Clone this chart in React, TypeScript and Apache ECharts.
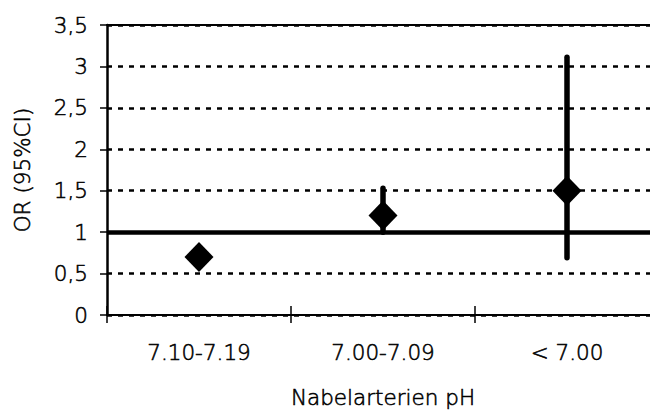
import React, { useEffect, useRef } from "react";
import * as echarts from "echarts";

const categories = ["7.10-7.19", "7.00-7.09", "< 7.00"];
const orValues = [0.7, 1.2, 1.5];
const ciLow = [0.63, 1.0, 0.69];
const ciHigh = [0.77, 1.53, 3.11];
const yTicks = { min: 0, max: 3.5, interval: 0.5 };
const referenceValue = 1;

const FONT = "'DejaVu Sans', sans-serif";
const FW = 200;
const FS = 21.5;
const TXT = {
  color: "#000",
  fontSize: FS,
  fontFamily: FONT,
  fontWeight: FW,
  textBorderColor: "#000",
  textBorderWidth: 0.55,
};

export default function App() {
  const ref = useRef<HTMLDivElement>(null);
  useEffect(() => {
    if (!ref.current) return;
    const chart = echarts.init(ref.current, null, { renderer: "svg" });
    const ciData = categories.map((c, i) => [i, ciLow[i], ciHigh[i]]);
    chart.setOption({
      animation: false,
      backgroundColor: "#fff",
      textStyle: { fontFamily: FONT, fontWeight: FW },
      grid: {
        left: 107,
        right: 0,
        top: 25,
        bottom: 95,
        containLabel: false,
        outerBoundsMode: "none",
      },
      xAxis: [
        {
          type: "category",
          data: categories,
          position: "bottom",
          boundaryGap: true,
          axisLine: { show: true, lineStyle: { color: "#000", width: 2 } },
          axisTick: { show: true, inside: false, length: 8, lineStyle: { color: "#000", width: 1.5 } },
          axisLabel: { ...TXT, margin: 26 },
          splitLine: { show: false },
          name: "Nabelarterien pH",
          nameLocation: "middle",
          nameGap: 71,
          nameTextStyle: { ...TXT },
        },
        {
          type: "category",
          data: categories,
          position: "bottom",
          boundaryGap: true,
          axisLine: { show: false },
          axisTick: { show: true, inside: true, length: 9, lineStyle: { color: "#000", width: 1.5 } },
          axisLabel: { show: false },
          splitLine: { show: false },
        },
        {
          type: "category",
          data: categories,
          position: "top",
          boundaryGap: true,
          axisLine: { show: true, lineStyle: { color: "#000", width: 2 } },
          axisTick: { show: false },
          axisLabel: { show: false },
          splitLine: { show: false },
        },
      ],
      yAxis: {
        type: "value",
        min: yTicks.min,
        max: yTicks.max,
        interval: yTicks.interval,
        axisLine: { show: true, lineStyle: { color: "#000", width: 2.5 } },
        axisTick: { show: true, inside: false, length: 7, lineStyle: { color: "#000", width: 1.5 } },
        axisLabel: {
          ...TXT,
          margin: 19,
          formatter: (v: number) => String(v).replace(".", ","),
        },
        splitLine: { show: true, lineStyle: { color: "#000", width: 2.5, type: [5, 6] } },
        name: "OR (95%CI)",
        nameLocation: "middle",
        nameGap: 74,
        nameTextStyle: { ...TXT },
      },
      series: [
        {
          type: "custom",
          xAxisIndex: 0,
          data: ciData,
          renderItem: (params: any, api: any) => {
            const x = api.value(0);
            const lo = api.coord([x, api.value(1)]);
            const hi = api.coord([x, api.value(2)]);
            return {
              type: "line",
              shape: { x1: lo[0], y1: lo[1], x2: hi[0], y2: hi[1] },
              style: { stroke: "#000", lineWidth: 5.5, lineCap: "round" },
            };
          },
          markLine: {
            silent: true,
            symbol: "none",
            label: { show: false },
            lineStyle: { color: "#000", width: 4.5, type: "solid" },
            data: [{ yAxis: referenceValue }],
          },
          z: 3,
        },
        {
          type: "scatter",
          xAxisIndex: 0,
          data: orValues.map((v, i) => [i, v]),
          symbol: "diamond",
          symbolSize: [29, 30],
          itemStyle: { color: "#000", opacity: 1 },
          z: 4,
        },
      ],
    });
    return () => chart.dispose();
  }, []);
  return (
    <div
      style={{
        position: "absolute",
        left: 0,
        top: 0,
        width: 650,
        height: 410,
        overflow: "hidden",
        background: "#fff",
      }}
    >
      <div ref={ref} style={{ width: 659, height: 410 }} />
    </div>
  );
}
